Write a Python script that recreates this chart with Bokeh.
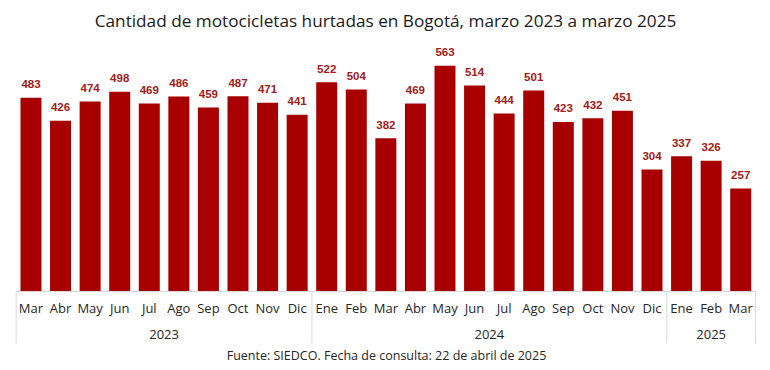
from bokeh.plotting import figure
from bokeh.models import ColumnDataSource, Range1d
from bokeh.embed import file_html
from bokeh.resources import INLINE
from bokeh.core.properties import value

months = ["Mar", "Abr", "May", "Jun", "Jul", "Ago", "Sep", "Oct", "Nov", "Dic",
          "Ene", "Feb", "Mar", "Abr", "May", "Jun", "Jul", "Ago", "Sep", "Oct", "Nov", "Dic",
          "Ene", "Feb", "Mar"]
years = ["2023"] * 10 + ["2024"] * 12 + ["2025"] * 3
counts = [483, 426, 474, 498, 469, 486, 459, 487, 471, 441,
          522, 504, 382, 469, 563, 514, 444, 501, 423, 432, 451, 304,
          337, 326, 257]
title_text = "Cantidad de motocicletas hurtadas en Bogotá, marzo 2023 a marzo 2025"
source_text = "Fuente: SIEDCO. Fecha de consulta: 22 de abril de 2025"

W, H = 766, 366
ORIGIN = 0  # page position of the figure's top-left corner
# layout in page pixels
frame_left_px, frame_right_px = 15.7, 755.0
base_px = 291.0
px_per_unit = 0.401
n = len(counts)
cat_w = (frame_right_px - frame_left_px) / n

def xd(px):
    return (px - frame_left_px) / cat_w - 0.5

def yd(py):
    return (base_px - py) / px_per_unit

x = list(range(n))
src = ColumnDataSource(dict(x=x, top=counts, month=months,
                            lbl=[str(c) for c in counts],
                            ly=[c + 9.5 / px_per_unit for c in counts],
                            my=[yd(307)] * n))

p = figure(width=W, height=H, output_backend="svg", toolbar_location=None,
           x_range=Range1d(xd(ORIGIN), xd(ORIGIN + W)),
           y_range=Range1d(yd(ORIGIN + H), yd(ORIGIN)),
           min_border=0, outline_line_color=None)
p.axis.visible = False
p.grid.visible = False
p.background_fill_color = "white"
p.border_fill_color = "white"

BAR = "#A80000"
p.vbar(x="x", top="top", width=0.71, bottom=0, source=src, fill_color=BAR, line_color=None)

p.text(x="x", y="ly", text="lbl", source=src, text_align="center", text_baseline="bottom",
       text_font=value("Liberation Sans"), text_font_style="bold", text_font_size="11.5px",
       text_color="#A31A1A")

# axis line
p.segment(x0=[-0.5], y0=[0], x1=[n - 0.5], y1=[0], line_color="#D9D9D9", line_width=1)

# month labels
p.text(x="x", y="my", text="month", source=src, text_align="center",
       text_baseline="middle", text_font=value("Open Sans"), text_font_size="13px",
       text_color="#262626")

# year groups and separators
groups = []
for i, yv in enumerate(years):
    if not groups or groups[-1][0] != yv:
        groups.append([yv, i, i])
    else:
        groups[-1][2] = i
sep_x = [-0.5] + [g[2] + 0.5 for g in groups]
p.segment(x0=sep_x, y0=[0] * len(sep_x), x1=sep_x, y1=[yd(343)] * len(sep_x),
          line_color="#D9D9D9", line_width=1)
p.text(x=[(g[1] + g[2]) / 2 for g in groups], y=[yd(334)] * len(groups),
       text=[g[0] for g in groups], text_align="center", text_baseline="middle",
       text_font=value("Open Sans"), text_font_size="13px", text_color="#262626")

# title and footer
p.text(x=[xd(385)], y=[yd(20)], text=[title_text], text_align="center", text_baseline="middle",
       text_font=value("Open Sans"), text_font_size="17.2px", text_color="#1a1a1a")
p.text(x=[xd(386)], y=[yd(355)], text=[source_text], text_align="center", text_baseline="middle",
       text_font=value("Open Sans"), text_font_size="12.5px", text_color="#262626")

open("out.html", "w").write(file_html(p, INLINE))
